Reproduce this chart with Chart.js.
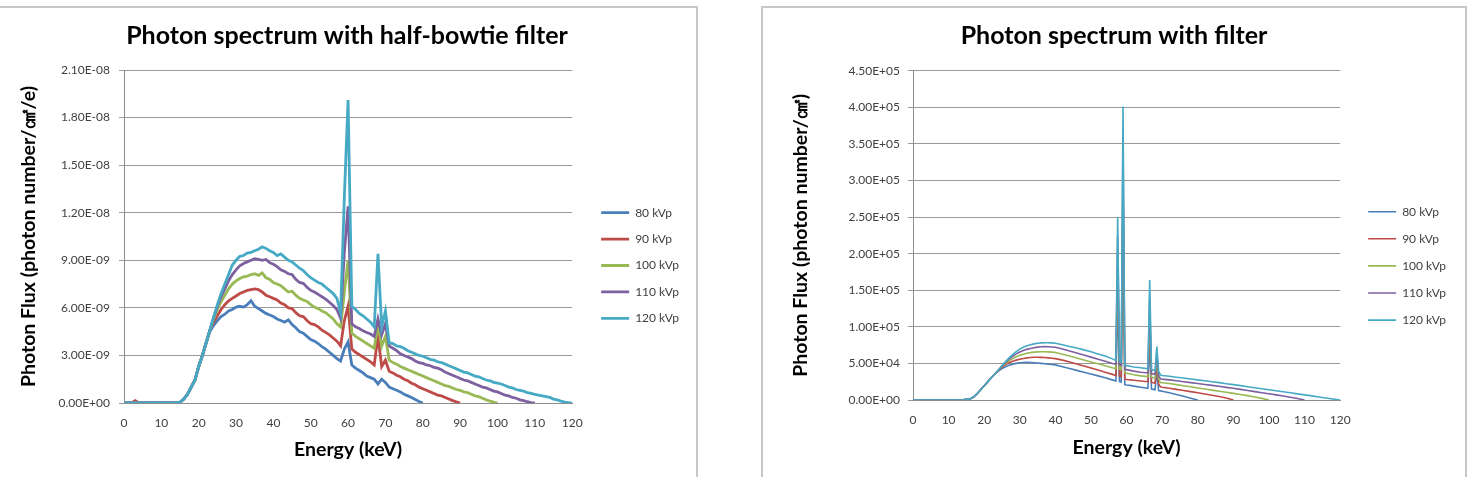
<!DOCTYPE html>
<html>
<head>
<meta charset="utf-8">
<title>Photon spectrum</title>
<script src="https://cdn.jsdelivr.net/npm/chart.js@4.4.1/dist/chart.umd.min.js"></script>
<style>
  html, body { margin: 0; padding: 0; background: #fff; overflow: hidden; }
  body { width: 1476px; height: 477px; position: relative; }
  .panel { position: absolute; top: 6px; height: 490px; border: 2px solid #c8c8c8; box-sizing: border-box; }
  #panelL { left: -10px; width: 708px; }
  #panelR { left: 761px; width: 706px; }
  canvas { position: absolute; top: 8px; }
</style>
</head>
<body>
<div class="panel" id="panelL"></div>
<div class="panel" id="panelR"></div>
<canvas id="halfBowtieChart" width="690" height="469" style="left:2px"></canvas>
<canvas id="filterChart" width="690" height="469" style="left:769px"></canvas>
<script>
// series names and colours (Excel 2007 palette)
const seriesNames = ['80 kVp', '90 kVp', '100 kVp', '110 kVp', '120 kVp'];
const seriesColors = ['#4a7ebb', '#be4b48', '#98b954', '#7d60a0', '#46aac5'];

// ---------- left chart: half-bowtie filter (values in 1e-9 photons/cm2/e) ----------
const UNIT_L = 1e-9;
const energyL = [
  0, 1, 2, 3, 4, 5, 6, 7, 8, 9, 10, 11, 12, 13, 14, 15, 16, 17, 18, 19,
  20, 21, 22, 23, 24, 25, 26, 27, 28, 29, 30, 31, 32, 33, 34, 35, 36, 37, 38, 39,
  40, 41, 42, 43, 44, 45, 46, 47, 48, 49, 50, 51, 52, 53, 54, 55, 56, 57, 58, 59,
  60, 61, 62, 63, 64, 65, 66, 67, 68, 69, 70, 71, 72, 73, 74, 75, 76, 77, 78, 79,
  80, 81, 82, 83, 84, 85, 86, 87, 88, 89, 90, 91, 92, 93, 94, 95, 96, 97, 98, 99,
  100, 101, 102, 103, 104, 105, 106, 107, 108, 109, 110, 111, 112, 113, 114, 115, 116, 117, 118, 119, 120
];
const bowtie80 = [
  0, 0, 0, 0, 0, 0, 0, 0, 0, 0,
  0, 0, 0, 0, 0, 0.05, 0.25, 0.55, 1.0, 1.45,
  2.3, 3.0, 3.8, 4.5, 4.9, 5.2, 5.45, 5.6, 5.8, 5.9,
  6.05, 6.1, 6.05, 6.2, 6.45, 6.1, 5.95, 5.8, 5.65, 5.55,
  5.45, 5.3, 5.2, 5.1, 5.25, 4.95, 4.75, 4.5, 4.4, 4.2,
  4.0, 3.9, 3.75, 3.55, 3.4, 3.2, 3.0, 2.8, 2.65, 3.4,
  3.85, 2.4, 2.2, 2.05, 1.9, 1.7, 1.6, 1.5, 1.2, 1.5,
  1.3, 1.0, 0.9, 0.8, 0.7, 0.55, 0.45, 0.35, 0.22, 0.1,
  0
];
const bowtie90 = [
  0, 0, 0, 0.15, 0, 0, 0, 0, 0, 0,
  0, 0, 0, 0, 0, 0.05, 0.25, 0.55, 1.0, 1.45,
  2.3, 3.0, 3.8, 4.6, 5.1, 5.5, 5.9, 6.2, 6.45, 6.6,
  6.75, 6.9, 7.0, 7.1, 7.15, 7.2, 7.15, 7.0, 6.8, 6.7,
  6.6, 6.5, 6.3, 6.2, 6.0, 5.95, 5.7, 5.5, 5.45, 5.2,
  5.0, 4.95, 4.8, 4.6, 4.45, 4.3, 4.1, 3.9, 3.6, 5.2,
  6.1, 3.4, 3.2, 3.05, 2.9, 2.75, 2.6, 2.4, 4.2, 2.3,
  2.7, 2.0, 1.9, 1.75, 1.65, 1.5, 1.4, 1.25, 1.15, 1.0,
  0.9, 0.8, 0.7, 0.6, 0.5, 0.45, 0.35, 0.25, 0.15, 0.07,
  0
];
const bowtie100 = [
  0, 0, 0, 0, 0, 0, 0, 0, 0, 0,
  0, 0, 0, 0, 0, 0.05, 0.25, 0.55, 1.0, 1.45,
  2.3, 3.0, 3.8, 4.6, 5.3, 5.9, 6.4, 6.8, 7.2, 7.5,
  7.7, 7.85, 7.95, 8.0, 8.1, 8.15, 8.05, 8.2, 7.9, 7.8,
  7.6, 7.5, 7.4, 7.2, 7.0, 7.05, 6.8, 6.6, 6.5, 6.4,
  6.2, 6.05, 5.95, 5.8, 5.7, 5.5, 5.3, 5.0, 4.8, 7.0,
  9.0, 4.4, 4.2, 4.05, 3.9, 3.75, 3.6, 3.45, 5.0, 3.6,
  4.2, 2.7, 2.55, 2.45, 2.3, 2.2, 2.1, 2.0, 1.9, 1.8,
  1.7, 1.6, 1.5, 1.4, 1.3, 1.2, 1.1, 1.05, 0.95, 0.85,
  0.8, 0.7, 0.65, 0.55, 0.45, 0.4, 0.3, 0.2, 0.12, 0.05,
  0
];
const bowtie110 = [
  0, 0, 0, 0, 0, 0, 0, 0, 0, 0,
  0, 0, 0, 0, 0, 0.05, 0.25, 0.55, 1.0, 1.45,
  2.3, 3.0, 3.8, 4.6, 5.4, 6.1, 6.7, 7.2, 7.7, 8.1,
  8.4, 8.65, 8.8, 8.9, 9.0, 9.1, 9.05, 9.0, 9.05, 8.85,
  8.75, 8.6, 8.4, 8.3, 8.15, 8.1, 7.8, 7.6, 7.55, 7.3,
  7.1, 7.0, 6.85, 6.7, 6.55, 6.35, 6.15, 5.9, 5.35, 9.5,
  12.4, 5.0, 4.8, 4.7, 4.55, 4.45, 4.35, 4.2, 5.3, 4.3,
  5.0, 3.6, 3.45, 3.3, 3.1, 3.0, 2.9, 2.8, 2.65, 2.55,
  2.5, 2.4, 2.35, 2.25, 2.2, 2.1, 1.95, 1.85, 1.75, 1.65,
  1.55, 1.45, 1.4, 1.3, 1.2, 1.1, 1.0, 0.95, 0.85, 0.75,
  0.7, 0.6, 0.5, 0.45, 0.35, 0.3, 0.2, 0.15, 0.08, 0.03,
  0
];
const bowtie120 = [
  0, 0, 0, 0, 0, 0, 0, 0, 0, 0,
  0, 0, 0, 0, 0, 0.05, 0.25, 0.55, 1.0, 1.45,
  2.3, 3.0, 3.8, 4.6, 5.4, 6.2, 6.9, 7.5, 8.1, 8.7,
  9.0, 9.25, 9.3, 9.45, 9.5, 9.6, 9.7, 9.85, 9.75, 9.6,
  9.5, 9.3, 9.4, 9.2, 9.0, 8.9, 8.7, 8.5, 8.35, 8.1,
  7.9, 7.75, 7.6, 7.5, 7.3, 7.1, 6.9, 6.6, 5.7, 13.0,
  19.1, 6.1, 5.9, 5.65, 5.5, 5.3, 5.1, 4.8, 9.4, 4.8,
  5.8, 3.8, 3.75, 3.6, 3.55, 3.45, 3.3, 3.2, 3.1, 3.0,
  2.95, 2.85, 2.75, 2.7, 2.6, 2.55, 2.45, 2.35, 2.25, 2.15,
  2.05, 1.95, 1.9, 1.8, 1.7, 1.65, 1.55, 1.45, 1.4, 1.3,
  1.25, 1.2, 1.1, 1.0, 0.95, 0.85, 0.8, 0.75, 0.65, 0.6,
  0.55, 0.5, 0.45, 0.4, 0.35, 0.25, 0.2, 0.12, 0.06, 0.02,
  0
];
const yTicksL = [0, 3e-9, 6e-9, 9e-9, 1.2e-8, 1.5e-8, 1.8e-8, 2.1e-8];

// ---------- right chart: filter (values in 1e4 photons/cm2) ----------
const UNIT_R = 1e4;
const energyR = [
  0, 13, 14, 15, 16, 17, 18, 19, 20, 21, 22, 23,
  24, 25, 26, 27, 28, 29, 30, 31, 32, 33, 34, 35, 36, 37, 38, 39, 40,
  42, 44, 46, 48, 50, 52, 54, 56,
  57, 57.5, 58, 58.5, 59, 59.5, 60,
  61, 62, 64, 66,
  66.5, 67, 67.5, 68, 68.5, 69, 69.5, 70,
  72, 74, 76, 78, 80, 82, 84, 86, 88, 90, 92, 94, 96, 98, 100,
  102, 104, 106, 108, 110, 112, 114, 116, 118, 120
];
const filter80 = [
  0, 0, 0.03, 0.08, 0.15, 0.4, 0.85, 1.4, 1.95, 2.5, 3.05, 3.55,
  3.95, 4.3, 4.55, 4.75, 4.9, 5.0, 5.08, 5.12, 5.14, 5.13, 5.1, 5.05, 5.0, 4.95, 4.9, 4.85, 4.8,
  4.55, 4.3, 4.05, 3.8, 3.55, 3.3, 3.05, 2.75,
  2.6, 14, 2.5, 2.45, 22, 2.1, 2.05,
  2.0, 1.9, 1.75, 1.6,
  8, 1.5, 1.45, 1.4, 4, 1.3, 1.25, 1.2,
  0.98, 0.75, 0.5, 0.25, 0
];
const filter90 = [
  0, 0, 0.03, 0.08, 0.15, 0.4, 0.85, 1.4, 1.95, 2.5, 3.05, 3.55,
  4.05, 4.5, 4.85, 5.1, 5.3, 5.45, 5.58, 5.68, 5.76, 5.81, 5.84, 5.85, 5.83, 5.8, 5.76, 5.71, 5.65,
  5.45, 5.2, 4.92, 4.65, 4.37, 4.1, 3.8, 3.5,
  3.35, 17, 3.25, 3.2, 27, 2.85, 2.8,
  2.75, 2.7, 2.6, 2.5,
  10, 2.4, 2.35, 2.3, 5, 2.2, 1.8, 1.75,
  1.6, 1.45, 1.3, 1.15, 1.0, 0.82, 0.65, 0.48, 0.28, 0
];
const filter100 = [
  0, 0, 0.03, 0.08, 0.15, 0.4, 0.85, 1.4, 1.95, 2.5, 3.05, 3.55,
  4.1, 4.6, 5.0, 5.35, 5.65, 5.9, 6.1, 6.25, 6.38, 6.47, 6.54, 6.58, 6.6, 6.6, 6.58, 6.54, 6.48,
  6.25, 6.0, 5.75, 5.48, 5.2, 4.95, 4.68, 4.4,
  4.3, 20, 4.2, 4.15, 31, 3.7, 3.65,
  3.55, 3.45, 3.3, 3.2,
  12, 3.1, 3.05, 3.0, 5.7, 2.9, 2.4, 2.35,
  2.25, 2.1, 1.95, 1.8, 1.65, 1.5, 1.35, 1.2, 1.05, 0.9, 0.75, 0.6, 0.42, 0.22, 0
];
const filter110 = [
  0, 0, 0.03, 0.08, 0.15, 0.4, 0.85, 1.4, 1.95, 2.5, 3.05, 3.55,
  4.1, 4.65, 5.15, 5.58, 5.97, 6.3, 6.56, 6.76, 6.92, 7.05, 7.15, 7.22, 7.27, 7.29, 7.28, 7.25, 7.2,
  6.97, 6.7, 6.42, 6.14, 5.86, 5.58, 5.3, 5.0,
  4.9, 22.5, 4.8, 4.75, 36, 4.2, 4.15,
  4.05, 3.95, 3.8, 3.7,
  14, 3.6, 3.55, 3.5, 6.5, 3.4, 2.9, 2.85,
  2.75, 2.62, 2.5, 2.37, 2.25, 2.12, 2.0, 1.87, 1.73, 1.6, 1.45, 1.3, 1.15, 1.0, 0.85,
  0.7, 0.55, 0.38, 0.2, 0
];
const filter120 = [
  0, 0, 0.03, 0.08, 0.15, 0.4, 0.85, 1.4, 1.95, 2.5, 3.05, 3.55,
  4.1, 4.7, 5.25, 5.75, 6.2, 6.6, 6.95, 7.2, 7.4, 7.55, 7.67, 7.75, 7.8, 7.83, 7.83, 7.8, 7.76,
  7.55, 7.32, 7.1, 6.85, 6.6, 6.3, 6.0, 5.62,
  5.4, 25, 5.2, 5.15, 40.1, 4.75, 4.7,
  4.6, 4.5, 4.4, 4.25,
  16.4, 4.15, 4.1, 4.0, 7.3, 3.9, 3.45, 3.35,
  3.25, 3.12, 3.0, 2.88, 2.75, 2.62, 2.5, 2.37, 2.23, 2.1, 1.96, 1.82, 1.68, 1.54, 1.4,
  1.26, 1.12, 0.98, 0.84, 0.7, 0.56, 0.42, 0.28, 0.14, 0
];
const yTicksR = [0, 5e4, 1e5, 1.5e5, 2e5, 2.5e5, 3e5, 3.5e5, 4e5, 4.5e5];

const xTicks = [0, 10, 20, 30, 40, 50, 60, 70, 80, 90, 100, 110, 120];

// Excel style scientific label, e.g. 2.10E-08
function sci(v) {
  const parts = Number(v).toExponential(2).split('e');
  const n = parseInt(parts[1], 10);
  return parts[0] + 'E' + (n < 0 ? '-' : '+') + String(Math.abs(n)).padStart(2, '0');
}

Chart.defaults.font.family = "Lato, 'Open Sans', sans-serif";
Chart.defaults.color = '#404040';

function buildDatasets(seriesList, unit, width) {
  // last series goes on top, as in Excel
  return seriesList.map((vals, i) => ({
    label: seriesNames[i],
    data: vals.map(v => v * unit),
    borderColor: seriesColors[i],
    backgroundColor: seriesColors[i],
    borderWidth: width,
    pointRadius: 0,
    tension: 0,
    fill: false,
    order: seriesList.length - i
  }));
}

function buildOptions(g) {
  return {
    responsive: false,
    animation: false,
    devicePixelRatio: 1,
    layout: { padding: { top: 0, bottom: g.padBottom, left: 3, right: 3 } },
    plugins: {
      tooltip: { enabled: false },
      title: {
        display: true,
        text: g.title,
        color: '#000',
        font: { size: 25, weight: 'bold' },
        padding: { top: 13, bottom: g.titleGap }
      },
      legend: {
        position: 'right',
        align: 'center',
        title: { display: true, text: '', padding: { top: g.legendShift, bottom: 0 } },
        labels: {
          usePointStyle: true,
          pointStyle: 'line',
          pointStyleWidth: 28,
          padding: g.legendGap,
          color: '#404040',
          font: { size: 12 },
          sort: (a, b) => a.datasetIndex - b.datasetIndex
        }
      }
    },
    scales: {
      x: {
        type: 'linear',
        min: 0,
        max: 120,
        afterBuildTicks: a => { a.ticks = xTicks.map(v => ({ value: v })); },
        afterFit: s => { s.height = g.xHeight; },
        grid: { display: false, drawTicks: false },
        border: { display: true, color: '#8c8c8c' },
        ticks: { padding: g.xPad, maxRotation: 0, autoSkip: false, font: { size: 12 } },
        title: {
          display: true,
          text: 'Energy (keV)',
          color: '#000',
          font: { size: 19.5, weight: 'bold' },
          padding: { top: 8, bottom: 0 }
        }
      },
      y: {
        position: 'left',
        min: 0,
        max: g.yMax,
        afterBuildTicks: a => { a.ticks = g.yTicks.map(v => ({ value: v })); },
        afterFit: s => { s.width = g.yWidth; },
        grid: { color: '#9a9a9a', tickLength: 5 },
        border: { color: '#8c8c8c' },
        ticks: { padding: g.yPad, font: { size: 12 }, callback: v => sci(v) },
        title: {
          display: true,
          text: g.yTitle,
          color: '#000',
          font: { size: 19.5, weight: 'bold' },
          padding: { top: g.yTitleGap, bottom: 0 }
        }
      },
      // empty axis that keeps the gap between plot and legend
      gap: {
        position: 'right',
        display: true,
        grid: { display: false, drawTicks: false },
        border: { display: false },
        ticks: { display: false },
        afterFit: s => { s.width = g.rightGap; }
      }
    }
  };
}

new Chart(document.getElementById('halfBowtieChart'), {
  type: 'line',
  data: {
    labels: energyL,
    datasets: buildDatasets([bowtie80, bowtie90, bowtie100, bowtie110, bowtie120], UNIT_L, 2.8)
  },
  options: buildOptions({
    title: 'Photon spectrum with half-bowtie filter',
    yTitle: 'Photon Flux (photon number/㎠/e)',
    yMax: 2.1e-8, yTicks: yTicksL,
    padBottom: 15.3, titleGap: 19,
    legendShift: 46.9, legendGap: 14.4,
    xPad: 13, xHeight: 58.7,
    yWidth: 119, yPad: 9, yTitleGap: 12.3,
    rightGap: 14.6
  })
});

new Chart(document.getElementById('filterChart'), {
  type: 'line',
  data: {
    labels: energyR,
    datasets: buildDatasets([filter80, filter90, filter100, filter110, filter120], UNIT_R, 1.6)
  },
  options: buildOptions({
    title: 'Photon spectrum with filter',
    yTitle: 'Photon Flux (photon number/㎠)',
    yMax: 4.5e5, yTicks: yTicksR,
    padBottom: 17.3, titleGap: 19.7,
    legendShift: 49.7, legendGap: 15.1,
    xPad: 13.4, xHeight: 59.7,
    yWidth: 141, yPad: 8, yTitleGap: 17.3,
    rightGap: 12.9
  })
});
</script>
</body>
</html>
